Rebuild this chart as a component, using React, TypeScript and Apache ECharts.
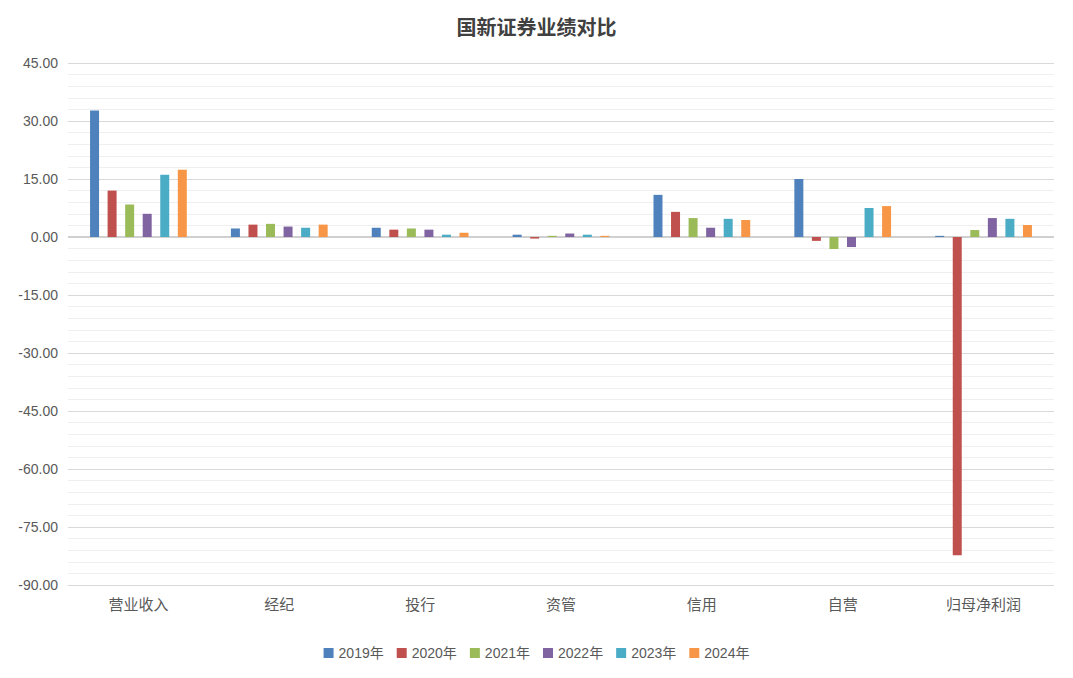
import { useEffect, useRef } from "react";
import * as echarts from "echarts";

const categories = ["营业收入", "经纪", "投行", "资管", "信用", "自营", "归母净利润"];
const years = ["2019年", "2020年", "2021年", "2022年", "2023年", "2024年"];

const v2019 = [32.7, 2.2, 2.4, 0.6, 10.9, 15.0, 0.3];
const v2020 = [12.0, 3.2, 1.9, -0.4, 6.5, -1.0, -82.3];
const v2021 = [8.4, 3.4, 2.2, 0.3, 4.9, -3.1, 1.8];
const v2022 = [6.0, 2.7, 1.9, 0.9, 2.4, -2.6, 4.9];
const v2023 = [16.1, 2.4, 0.6, 0.6, 4.7, 7.5, 4.7];
const v2024 = [17.4, 3.2, 1.1, 0.3, 4.4, 8.0, 3.1];

const yearValues = [v2019, v2020, v2021, v2022, v2023, v2024];
const colors = ["#4F81BD", "#C0504D", "#9BBB59", "#8064A2", "#4BACC6", "#F79646"];

const FONT = "'Liberation Sans', 'Noto Sans CJK SC', sans-serif";

export default function App() {
  const chartRef = useRef<HTMLDivElement>(null);

  useEffect(() => {
    if (!chartRef.current) return;
    const chart = echarts.init(chartRef.current, null, { renderer: "svg" });

    // Bars per year
    const barSeries = yearValues.map((vals, i) => ({
      name: years[i],
      type: "bar",
      barWidth: 9,
      barGap: "95%",
      z: 3,
      itemStyle: { color: colors[i] },
      data: vals,
    }));

    // Zero line drawn behind the bars
    const zeroLine = {
      name: "zero",
      type: "line",
      data: [],
      z: 1,
      silent: true,
      markLine: {
        silent: true,
        z: 1,
        symbol: "none",
        label: { show: false },
        lineStyle: { color: "#d0d0d0", width: 2, type: "solid" },
        data: [{ yAxis: 0 }],
      },
    };

    chart.setOption({
      animation: false,
      color: colors,
      title: {
        text: "国新证券业绩对比",
        left: "center",
        top: 3,
        textStyle: {
          fontFamily: "'Noto Sans CJK SC', sans-serif",
          fontSize: 20,
          fontWeight: "bold",
          color: "#404040",
        },
      },
      legend: {
        data: years,
        bottom: 5,
        left: "center",
        itemWidth: 10,
        itemHeight: 10,
        itemGap: 13,
        icon: "rect",
        textStyle: { color: "#595959", fontSize: 14, fontFamily: FONT },
      },
      tooltip: { show: false },
      grid: { left: 60, right: 11, top: 55, bottom: 85 },
      xAxis: {
        type: "category",
        data: categories,
        axisLine: { show: false, onZero: false },
        axisTick: { show: false },
        axisLabel: { color: "#595959", fontSize: 15, margin: 12, fontFamily: FONT },
        splitLine: { show: false },
      },
      yAxis: {
        type: "value",
        min: -90,
        max: 45,
        interval: 15,
        axisLine: { show: false },
        axisTick: { show: false },
        axisLabel: {
          color: "#595959",
          fontSize: 14,
          margin: 10,
          fontFamily: FONT,
          formatter: (v: number) => v.toFixed(2),
        },
        splitLine: { lineStyle: { color: "#d9d9d9", width: 1 } },
        minorTick: { show: false, splitNumber: 5 },
        minorSplitLine: { show: true, lineStyle: { color: "#efefef", width: 1 } },
      },
      series: [...barSeries, zeroLine],
    });

    return () => {
      chart.dispose();
    };
  }, []);

  return <div ref={chartRef} style={{ width: 1057, height: 662 }} />;
}
